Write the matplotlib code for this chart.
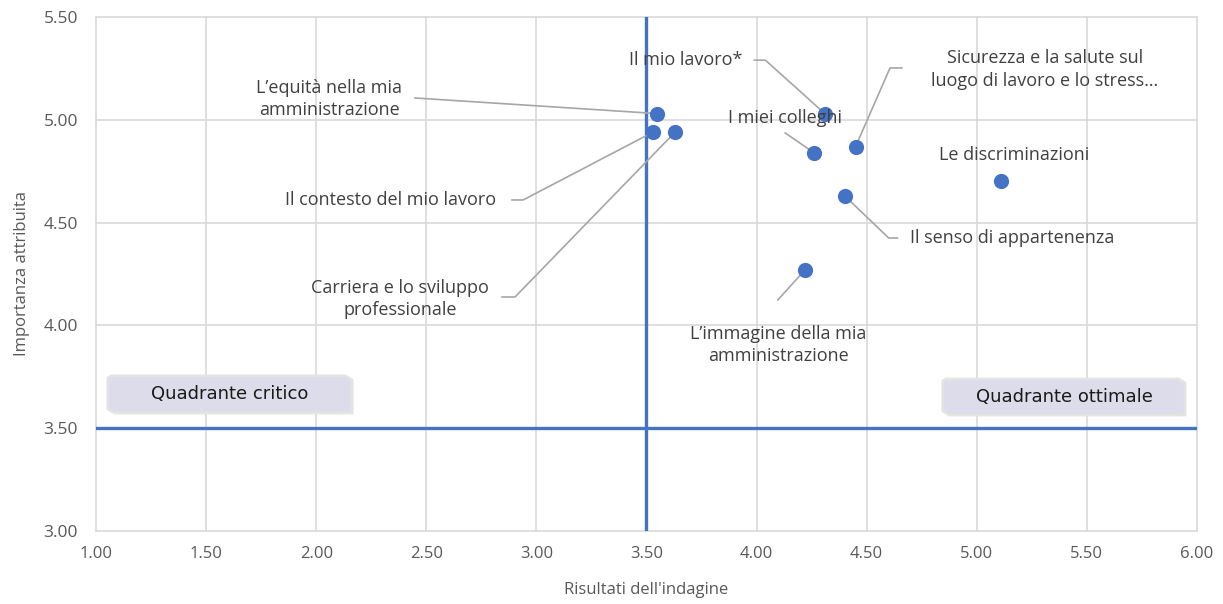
import matplotlib
matplotlib.use("Agg")
import matplotlib.pyplot as plt
from matplotlib.patches import Polygon

# Data
labels = [
    "L’equità nella mia\namministrazione",
    "Il contesto del mio lavoro",
    "Carriera e lo sviluppo\nprofessionale",
    "Il mio lavoro*",
    "I miei colleghi",
    "Sicurezza e la salute sul\nluogo di lavoro e lo stress…",
    "Le discriminazioni",
    "Il senso di appartenenza",
    "L’immagine della mia\namministrazione",
]
risultati = [3.55, 3.53, 3.63, 4.31, 4.26, 4.45, 5.11, 4.40, 4.22]
importanza = [5.03, 4.94, 4.94, 5.03, 4.84, 4.87, 4.70, 4.63, 4.27]

x_ticks = [1.0, 1.5, 2.0, 2.5, 3.0, 3.5, 4.0, 4.5, 5.0, 5.5, 6.0]
y_ticks = [3.0, 3.5, 4.0, 4.5, 5.0, 5.5]
soglia = 3.5

# label placement (text centre) and leader line start points (None = no leader)
label_pos = [(2.06, 5.10), (2.34, 4.61), (2.38, 4.13), (3.68, 5.29), (4.13, 5.01),
             (5.31, 5.245), (5.17, 4.83), (5.16, 4.425), (4.10, 3.905)]
leaders = [
    [(2.449, 5.106)],
    [(2.889, 4.61), (2.94, 4.61)],
    [(2.844, 4.138), (2.903, 4.138)],
    [(3.99, 5.29), (4.04, 5.29)],
    [(4.13, 4.936)],
    [(4.66, 5.252), (4.606, 5.252)],
    None,
    [(4.64, 4.425), (4.60, 4.425)],
    [(4.097, 4.124)],
]

blue = "#4472C4"
grid_c = "#d9d9d9"
txt_c = "#404040"

fig = plt.figure(figsize=(12.23, 6.04), dpi=100)
ax = fig.add_axes([0.0785, 0.1209, 0.9002, 0.851])

ax.set_xlim(1, 6)
ax.set_ylim(3, 5.5)
ax.set_xticks(x_ticks)
ax.set_yticks(y_ticks)
ax.set_xticklabels([f"{v:.2f}" for v in x_ticks], fontsize=12, color="#595959",
                   family="Open Sans")
ax.set_yticklabels([f"{v:.2f}" for v in y_ticks], fontsize=12.5, color="#595959",
                   family="Open Sans")
ax.tick_params(axis="y", length=0, pad=13)
ax.tick_params(axis="x", length=0, pad=11)
for s in ax.spines.values():
    s.set_visible(False)
ax.set_axisbelow(True)
for v in x_ticks:
    ax.axvline(v, color=grid_c, linewidth=1.2, zorder=0, clip_on=False)
for v in y_ticks:
    ax.axhline(v, color=grid_c, linewidth=1.2, zorder=0, clip_on=False)

ax.set_xlabel("Risultati dell'indagine", fontsize=12, color="#595959",
              family="Open Sans", labelpad=14)
ax.set_ylabel("Importanza attribuita", fontsize=12, color="#595959",
              family="Open Sans", labelpad=10)

# threshold lines
ax.axvline(soglia, color=blue, linewidth=2.4, zorder=2)
ax.axhline(soglia, color=blue, linewidth=2.4, zorder=2)

# leader lines
for (px, py), lead in zip(zip(risultati, importanza), leaders):
    if lead is None:
        continue
    xs = [p[0] for p in lead] + [px]
    ys = [p[1] for p in lead] + [py]
    ax.plot(xs, ys, color="#a6a6a6", linewidth=1.2, zorder=3)

ax.scatter(risultati, importanza, s=120, color=blue, zorder=4, linewidths=0)

for lab, (tx, ty) in zip(labels, label_pos):
    ax.text(tx, ty, lab, ha="center", va="center", fontsize=13, color=txt_c,
            family="Open Sans", linespacing=1.3, zorder=5)


def quadrant_box(x0, x1, y0, y1, text):
    c = 0.03
    cy = 0.02
    pts = [(x0 + c * 0.5, y1), (x1 - c, y1), (x1, y1 - cy), (x1, y0),
           (x0 + c, y0), (x0, y0 + cy), (x0, y1 - cy * 0.5)]
    ax.add_patch(Polygon(pts, closed=True, facecolor="#dcdcea",
                         edgecolor="#e3e3e3", linewidth=2, zorder=5))
    ax.text((x0 + x1) / 2, (y0 + y1) / 2, text, ha="center", va="center",
            fontsize=13, color="#1a1a1a", family="DejaVu Sans", zorder=6)


quadrant_box(1.054, 2.163, 3.574, 3.754, "Quadrante critico")
quadrant_box(4.846, 5.946, 3.564, 3.739, "Quadrante ottimale")

fig.savefig("out.png", dpi=100)
